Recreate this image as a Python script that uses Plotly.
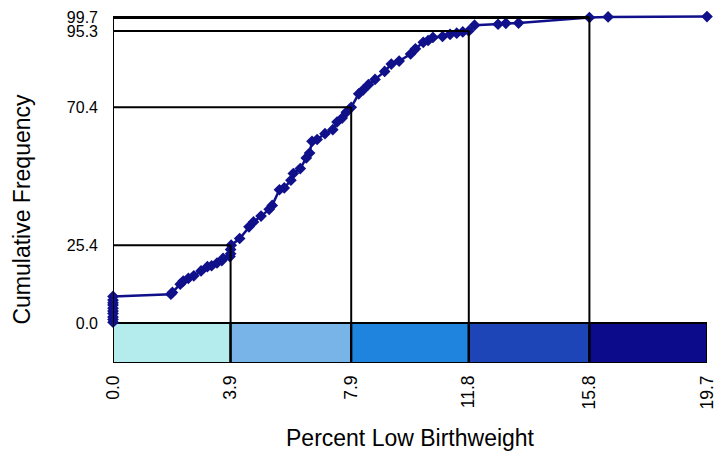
import plotly.graph_objects as go

# ---- data ----
class_breaks = [0.0, 3.9, 7.9, 11.8, 15.8, 19.7]
break_labels = ["0.0", "3.9", "7.9", "11.8", "15.8", "19.7"]
cum_at_breaks = [0.0, 25.4, 70.4, 95.3, 99.7]
y_tick_labels = ["0.0", "25.4", "70.4", "95.3", "99.7"]
class_colors = ["#b4ecee", "#78b4e8", "#1f84de", "#1e45b8", "#0b0b8c"]

cum_x = [0, 0, 0, 0, 0, 0, 0, 0, 0, 0,
         1.92, 1.97, 2.23, 2.33, 2.50, 2.68, 2.92, 3.13, 3.27, 3.45, 3.61, 3.65, 3.88, 3.90, 3.90, 3.92,
         4.20, 4.51, 4.66, 4.91, 5.18, 5.28, 5.52, 5.68, 5.90, 5.98, 6.21, 6.41, 6.52, 6.60, 6.77,
         7.03, 7.29, 7.43, 7.60, 7.74, 7.90,
         8.15, 8.30, 8.47, 8.69, 9.01, 9.23, 9.49, 9.87, 10.03, 10.29, 10.45, 10.61, 10.93, 11.18,
         11.40, 11.60, 11.80,
         11.99, 12.77, 13.03, 13.45, 15.80, 16.42, 19.70]
cum_y = [0.3, 1.2, 2.0, 3.1, 3.9, 4.8, 5.9, 6.6, 7.5, 8.7,
         9.4, 10.0, 12.7, 13.7, 14.6, 15.4, 17.0, 18.4, 18.7, 19.6, 20.4, 21.1, 21.7, 22.6, 24.0, 25.4,
         27.6, 31.4, 33.0, 34.9, 37.1, 38.4, 43.5, 44.1, 46.6, 48.8, 50.4, 53.9, 55.5, 59.3, 59.9,
         61.8, 63.1, 65.6, 66.9, 68.8, 70.4,
         74.8, 76.1, 77.8, 79.5, 82.1, 84.5, 85.5, 87.8, 89.5, 91.6, 92.2, 93.2, 93.5, 94.2,
         94.6, 95.0, 95.3,
         97.2, 97.5, 97.8, 97.9, 99.7, 99.9, 100.0]

# ---- style ----
BAR_DEPTH = -13.03
LINE_COLOR = "black"
CURVE_COLOR = "#10108a"
FONT = "Liberation Sans, Arial, sans-serif"

fig = go.Figure()

shapes = []
# classed legend bar under the plot
for i, col in enumerate(class_colors):
    shapes.append(dict(type="rect", xref="x", yref="y",
                       x0=class_breaks[i], x1=class_breaks[i + 1], y0=BAR_DEPTH, y1=0,
                       fillcolor=col, line=dict(color=LINE_COLOR, width=2), layer="below"))
# left edge line
shapes.append(dict(type="line", xref="x", yref="y", x0=class_breaks[0], x1=class_breaks[0],
                   y0=BAR_DEPTH, y1=cum_at_breaks[-1], line=dict(color=LINE_COLOR, width=2)))
# guide lines at each break
for k in range(1, len(cum_at_breaks)):
    w = 3 if k == len(cum_at_breaks) - 1 else 2
    shapes.append(dict(type="line", xref="x", yref="y", x0=class_breaks[0], x1=class_breaks[k],
                       y0=cum_at_breaks[k], y1=cum_at_breaks[k], line=dict(color=LINE_COLOR, width=w)))
    shapes.append(dict(type="line", xref="x", yref="y", x0=class_breaks[k], x1=class_breaks[k],
                       y0=BAR_DEPTH, y1=cum_at_breaks[k], line=dict(color=LINE_COLOR, width=2)))

fig.add_trace(go.Scatter(
    x=cum_x, y=cum_y, mode="lines+markers",
    line=dict(color=CURVE_COLOR, width=2.5),
    marker=dict(symbol="diamond", size=9, color=CURVE_COLOR),
    cliponaxis=False, showlegend=False, hoverinfo="x+y"))

fig.update_layout(
    width=716, height=455,
    margin=dict(l=112.7, r=9.3, t=11.5, b=92, pad=0, autoexpand=False),
    paper_bgcolor="white", plot_bgcolor="white",
    font=dict(family=FONT, color="black"),
    shapes=shapes,
    xaxis=dict(range=[class_breaks[0], class_breaks[-1]], tickmode="array",
               tickvals=class_breaks, ticktext=break_labels, tickangle=-90,
               showgrid=False, zeroline=False, showline=False, ticks="",
               tickfont=dict(size=17.5, family=FONT, color="black"),
               ticklabelstandoff=8, ticklabeloverflow="allow", automargin=False),
    yaxis=dict(range=[BAR_DEPTH, 101.5], tickmode="array",
               tickvals=cum_at_breaks, ticktext=y_tick_labels,
               showgrid=False, zeroline=False, showline=False, ticks="",
               tickfont=dict(size=16, family=FONT, color="black"),
               ticklabelstandoff=14, automargin=False),
    annotations=[
        dict(text="Cumulative Frequency", xref="paper", yref="paper", x=0, y=0.438,
             xshift=-90.7, xanchor="center", yanchor="middle", textangle=-90,
             showarrow=False, font=dict(size=23, family=FONT, color="black")),
        dict(text="Percent Low Birthweight", xref="paper", yref="paper", x=0.5, y=-0.213,
             xanchor="center", yanchor="middle", showarrow=False,
             font=dict(size=23, family=FONT, color="black")),
    ],
)

fig.write_html("out.html", config={"displayModeBar": False},
               post_script="document.body.style.margin='0';document.body.style.overflow='hidden';")
